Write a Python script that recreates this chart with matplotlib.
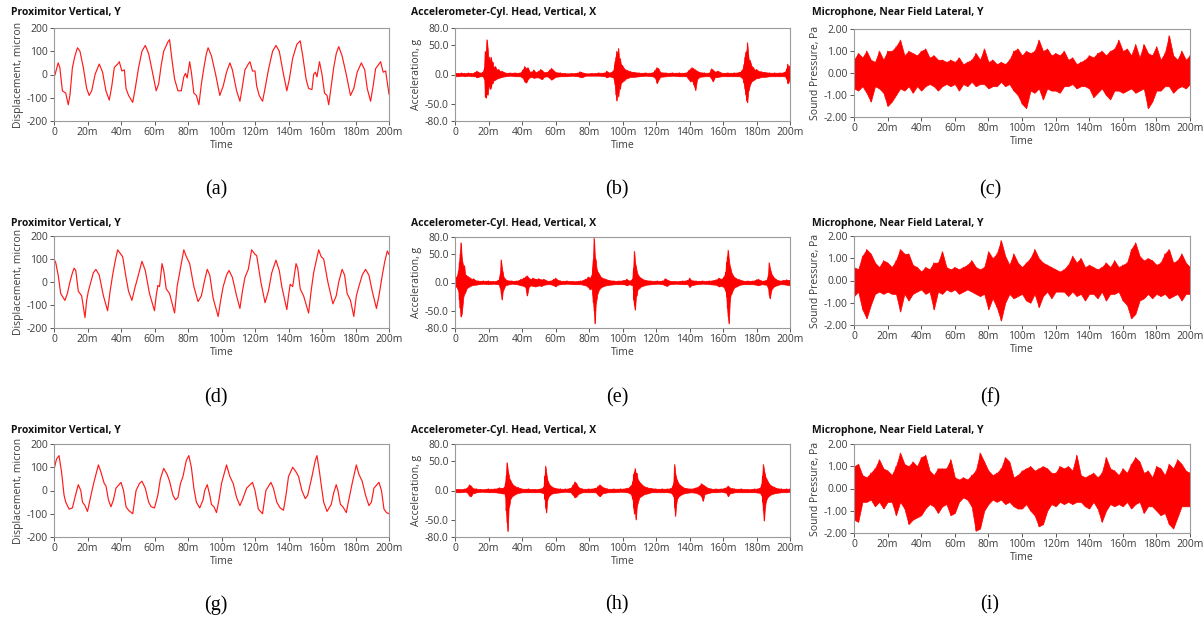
import numpy as np
import matplotlib
matplotlib.use("Agg")
import matplotlib.pyplot as plt

plt.rcParams['font.family'] = ['Open Sans', 'DejaVu Sans']
plt.rcParams['axes.unicode_minus'] = False

# ---------------- data ----------------
# time in ms

time_ticks = [0, 20, 40, 60, 80, 100, 120, 140, 160, 180, 200]
time_labels = ['0', '20m', '40m', '60m', '80m', '100m', '120m', '140m', '160m', '180m', '200m']

disp_ticks = [-200, -100, 0, 100, 200]
disp_labels = ['-200', '-100', '0', '100', '200']
acc_ticks = [-80, -50, 0, 50, 80]
acc_labels = ['-80.0', '-50.0', '0.0', '50.0', '80.0']
mic_ticks = [-2, -1, 0, 1, 2]
mic_labels = ['-2.00', '-1.00', '0.00', '1.00', '2.00']

panel_letters = ['(a)', '(b)', '(c)', '(d)', '(e)', '(f)', '(g)', '(h)', '(i)']

# proximitor displacement (t, micron)
disp_a = [(0, -15), (1, 10), (2.5, 50), (3.5, 30), (5, -70), (7, -80), (8.5, -130), (9.5, -90), (11, 30),
          (12.5, 80), (14, 115), (15.5, 100), (17.5, 30), (19.5, -60), (21, -90), (22.5, -70), (24.5, 0),
          (27, 45), (29, 10), (31, -70), (33, -110), (34.5, -50), (36, 30), (38, 45), (39, 55), (40.5, 15),
          (42, 20), (43, -60), (44.5, -90), (47, -120), (48.5, -60), (50.5, 30), (52.5, 100), (54.5, 125),
          (56.5, 90), (58.5, 20), (61, -70), (62.5, -40), (64, 40), (65.5, 100), (68, 140), (69, 150),
          (70.5, 60), (72, -20), (74, -70), (76, -70), (77.5, -10), (78.5, 5), (79.5, -15), (81, 55),
          (82, 10), (83.5, -80), (85, -90), (86.5, -130), (88, -40), (89.5, 30), (91, 90), (92, 115),
          (94, 80), (96.5, 0), (99, -90), (101, -50), (103, 10), (105, 50), (106.5, 20), (109, -70),
          (111, -115), (112.5, -50), (114, 20), (116, 45), (117, 55), (118.5, 15), (120, 15), (121, -50),
          (122.5, -90), (124.5, -115), (126, -60), (128, 20), (130.5, 100), (132.5, 125), (134.5, 100),
          (136.5, 20), (139, -70), (140.5, -20), (142.5, 70), (145, 130), (147, 145), (148.5, 80),
          (150.5, -20), (152, -60), (154, -65), (155, 0), (156, 10), (157, -10), (158.5, 55), (160, 0),
          (161.5, -80), (163, -90), (164, -130), (165.5, -50), (167, 30), (168.5, 90), (170, 120),
          (172, 80), (174.5, 0), (177, -90), (179, -60), (181, 10), (183.5, 50), (185.5, 20), (187, -60),
          (189, -115), (190.5, -50), (192, 25), (194, 45), (195, 55), (196.5, 10), (198, 15), (200, -85)]

disp_d = [(0, 100), (1, 85), (2.5, 30), (4, -50), (6.5, -80), (8, -50), (9.5, 0), (11, 40), (12, 60),
          (13, 50), (14.5, -40), (16.5, -60), (18.5, -155), (19.5, -80), (20.5, -40), (22, 0), (23.5, 40),
          (25, 55), (27, 30), (29.5, -60), (32, -125), (33.5, -40), (35, 30), (36.5, 90), (38, 140),
          (40, 120), (41, 110), (43, 20), (44.5, -40), (46.5, -80), (48.5, -20), (50, 20), (52.5, 90),
          (54.5, 50), (57, -50), (60, -125), (61, -60), (62, -15), (63, -20), (64.5, 80), (65.5, 50),
          (67, -30), (69, -50), (72, -135), (73.5, -20), (75, 40), (77.5, 140), (79, 110), (81, 80),
          (83.5, -20), (86, -85), (88, -60), (90, 10), (91.5, 55), (93, 30), (95, -70), (98, -150),
          (99.5, -80), (101, -20), (103, 30), (104.5, 50), (106.5, 20), (109, -60), (111, -115),
          (112.5, -40), (114, 20), (116, 55), (118, 140), (120, 120), (121, 115), (123.5, 0), (126, -90),
          (128, -40), (130, 40), (132.5, 95), (134.5, 50), (136, -20), (139, -120), (140, -60), (141, -10),
          (142.5, -20), (144.5, 80), (145.5, 60), (147, -30), (149, -60), (152, -135), (153.5, -40),
          (155, 40), (156.5, 90), (158, 140), (159.5, 110), (161, 100), (163.5, 0), (166.5, -95),
          (168.5, -60), (170, 0), (172, 55), (173.5, 30), (175, -50), (177, -80), (179, -150), (180.5, -60),
          (182, -20), (184, 30), (186, 55), (188, 30), (190, -40), (192.5, -115), (194, -60), (196, 30),
          (197.5, 90), (199, 135), (200, 120)]

disp_g = [(0, 90), (1.5, 135), (3, 150), (4.5, 80), (6, -20), (7, -50), (9, -80), (11, -75), (12.5, -30),
          (14.5, 25), (16, 0), (17, -50), (18.5, -65), (20, -90), (21.5, -40), (23, 10), (24, 40),
          (26.5, 110), (28, 80), (30, 30), (31, 20), (32.5, -40), (34, -70), (35.5, -40), (37, 10),
          (40, 35), (41.5, 0), (43, -70), (44.5, -85), (47, -100), (48, -50), (49, 0), (51, 30),
          (52.5, 40), (54.5, 10), (56.5, -50), (58, -70), (60, -75), (62, -20), (63.5, 50), (65.5, 95),
          (67.5, 70), (69, 40), (71, -20), (72.5, -40), (74, -30), (75.5, 30), (77, 60), (79, 130),
          (80.5, 150), (82, 100), (83.5, 10), (85, -50), (87, -75), (89, -40), (90, 0), (91.5, 25),
          (93, -20), (94, -60), (95.5, -70), (97, -95), (98.5, -40), (100, 30), (101.5, 70), (103, 110),
          (105, 60), (107, 30), (109, -30), (111, -65), (112.5, -40), (115, 10), (118.5, 35), (120, 0),
          (122, -80), (124.5, -100), (125.5, -50), (126.5, 0), (129.5, 35), (131, 10), (133, -50),
          (135, -75), (137, -85), (138.5, -20), (140, 60), (142.5, 100), (144.5, 80), (146, 60), (148, 0),
          (150, -35), (151.5, -20), (154, 60), (156, 130), (157, 150), (158.5, 80), (160, 0), (161, -50),
          (163, -90), (165.5, -60), (167, -10), (168.5, 25), (169.5, 0), (171, -60), (172.5, -70),
          (174.5, -95), (176, -40), (178, 30), (180.5, 110), (182, 70), (184, 40), (186, -20), (188, -65),
          (189.5, -50), (191, 10), (194, 35), (195.5, 0), (197, -80), (198.5, -95), (200, -100)]

# accelerometer envelope (t, upper g, lower g)
acc_b = [(0, 3, -3), (2, 2, -3), (4, 3, -2), (6, 2, -3), (8, 3, -2), (10, 2, -3), (12, 4, -3), (13, 6, -5),
         (14, 4, -4), (15, 3, -3), (16.5, 4, -3), (17.5, 10, -8), (18, 40, -38), (18.5, 38, -40),
         (19, 60, -30), (19.5, 45, -35), (20, 25, -22), (20.5, 30, -18), (21, 20, -25), (21.5, 30, -22),
         (22, 18, -14), (22.5, 22, -15), (23, 12, -10), (24, 14, -9), (25, 8, -7), (26, 9, -6), (27, 5, -5),
         (28, 6, -4), (30, 3, -3), (33, 3, -2), (36, 3, -3), (39, 3, -3), (40.5, 8, -6), (41.5, 14, -12),
         (42.5, 10, -14), (43.5, 12, -8), (44.5, 5, -5), (46, 5, -4), (47, 8, -6), (48, 4, -5), (50, 6, -5),
         (51, 9, -7), (52, 7, -8), (53, 4, -4), (55, 4, -3), (56.5, 8, -6), (57.5, 11, -9), (58.5, 8, -7),
         (60, 4, -4), (63, 3, -3), (66, 2, -3), (70, 2, -2), (73.5, 3, -3), (74.5, 5, -4), (75.5, 4, -5),
         (78, 2, -2), (82, 2, -2), (86, 3, -2), (89.5, 3, -3), (90.5, 6, -5), (92, 3, -3), (94.5, 6, -5),
         (95.5, 22, -18), (96, 30, -35), (96.5, 40, -45), (97, 35, -30), (97.5, 45, -38), (98, 25, -22),
         (98.5, 28, -25), (99, 18, -15), (100, 15, -12), (101, 10, -10), (102, 8, -7), (103, 7, -6),
         (105, 5, -4), (107, 4, -4), (110, 3, -3), (114, 3, -2), (118, 3, -3), (119.5, 8, -6),
         (120.5, 12, -15), (121.5, 10, -9), (122.5, 4, -4), (126, 3, -3), (130, 3, -2), (134, 3, -3),
         (138, 3, -3), (139.5, 7, -8), (140.5, 10, -12), (141.5, 12, -10), (142.5, 10, -18),
         (143.5, 8, -27), (144.5, 6, -8), (146, 4, -4), (149, 3, -3), (152, 3, -3), (153, 10, -7),
         (154, 8, -12), (155, 5, -5), (157, 6, -4), (159, 3, -3), (163, 3, -3), (167, 3, -3), (170, 4, -3),
         (171.5, 8, -6), (172.5, 18, -15), (173, 30, -25), (173.5, 38, -35), (174, 40, -45),
         (174.5, 55, -48), (175, 35, -30), (175.5, 22, -25), (176, 25, -18), (177, 15, -12), (178, 12, -10),
         (179, 8, -8), (180, 9, -6), (181, 6, -6), (183, 5, -4), (185, 4, -4), (188, 3, -3), (191, 3, -3),
         (194, 3, -3), (197, 4, -3), (198, 10, -8), (198.5, 18, -15), (199, 12, -14), (199.5, 15, -10),
         (200, 8, -8)]

acc_e = [(0, 8, -6), (1, 10, -8), (2, 20, -15), (2.5, 35, -30), (3, 50, -45), (3.5, 70, -60), (4, 45, -55),
         (4.5, 35, -40), (5, 28, -25), (5.5, 30, -20), (6, 15, -18), (7, 12, -10), (8, 10, -8), (9, 8, -6),
         (10, 6, -5), (11, 7, -4), (12, 4, -4), (14, 3, -3), (17, 3, -2), (20, 3, -3), (23, 2, -2),
         (26, 4, -3), (27, 15, -10), (27.5, 40, -20), (28, 25, -30), (28.5, 18, -15), (29, 10, -12),
         (30, 6, -5), (31, 4, -4), (34, 3, -2), (37, 3, -3), (39.5, 6, -5), (41, 8, -6), (42, 10, -8),
         (43, 12, -23), (44, 8, -8), (45, 6, -5), (46.5, 8, -6), (48, 6, -7), (50, 7, -5), (51.5, 5, -6),
         (53, 6, -4), (55, 3, -3), (57, 3, -3), (59, 6, -5), (60, 8, -7), (61, 5, -4), (63, 3, -3),
         (67, 3, -2), (71, 2, -3), (75, 3, -3), (78, 6, -5), (79.5, 10, -8), (80.5, 8, -12),
         (81.5, 12, -10), (82.5, 40, -35), (83, 78, -50), (83.5, 45, -72), (84, 40, -38), (84.5, 25, -30),
         (85, 20, -20), (86, 15, -12), (87, 10, -9), (88, 8, -7), (90, 6, -5), (92, 4, -4), (95, 3, -3),
         (98, 3, -3), (101, 4, -3), (102.5, 6, -5), (104, 3, -3), (106, 6, -5), (106.5, 25, -30),
         (107, 55, -40), (107.5, 35, -48), (108, 28, -25), (108.5, 20, -22), (109, 15, -12), (110, 10, -10),
         (111, 8, -7), (112, 6, -6), (114, 4, -4), (117, 3, -3), (121, 3, -2), (124, 3, -3), (125.5, 7, -5),
         (126.5, 5, -6), (128, 3, -3), (132, 2, -2), (136, 3, -3), (139, 4, -3), (140, 8, -8), (141, 4, -5),
         (144, 3, -3), (148, 3, -2), (152, 3, -3), (156, 5, -4), (157.5, 8, -7), (159, 6, -6),
         (160.5, 10, -8), (161.5, 18, -15), (162, 35, -25), (162.5, 45, -45), (163, 57, -60),
         (163.5, 40, -72), (164, 30, -35), (164.5, 25, -22), (165, 18, -20), (166, 12, -12), (167, 9, -8),
         (168, 7, -7), (170, 5, -4), (172, 3, -3), (175, 3, -3), (178, 3, -3), (180, 5, -4), (181, 6, -5),
         (183, 3, -3), (186, 4, -4), (187, 12, -10), (187.5, 35, -22), (188, 25, -28), (188.5, 20, -18),
         (189, 15, -12), (190, 10, -8), (191, 7, -6), (192, 5, -5), (194, 3, -3), (196, 4, -3),
         (198, 5, -4), (200, 4, -5)]

acc_h = [(0, 3, -3), (3, 2, -3), (6, 3, -2), (7.5, 5, -4), (8.5, 10, -9), (9.5, 8, -10), (10.5, 4, -5),
         (13, 3, -3), (16, 2, -2), (20, 3, -3), (24, 3, -3), (26.5, 5, -4), (28, 4, -5), (29.5, 6, -5),
         (30, 12, -10), (30.5, 25, -35), (31, 48, -55), (31.5, 35, -70), (32, 28, -30), (32.5, 20, -25),
         (33, 18, -15), (34, 12, -10), (35, 9, -8), (36, 7, -6), (38, 5, -4), (40, 3, -3), (44, 3, -3),
         (48, 2, -3), (51, 3, -3), (53, 6, -5), (53.5, 25, -15), (54, 42, -30), (54.5, 30, -38),
         (55, 20, -18), (55.5, 15, -12), (56.5, 10, -8), (58, 6, -5), (60, 4, -4), (63, 3, -3), (66, 3, -2),
         (69, 4, -3), (70.5, 10, -8), (71.5, 15, -12), (72.5, 12, -10), (73.5, 6, -6), (76, 3, -3),
         (80, 3, -3), (84, 4, -3), (85.5, 8, -8), (86.5, 10, -10), (88, 6, -5), (91, 3, -3), (95, 3, -3),
         (99, 3, -2), (103, 4, -3), (105, 8, -6), (106, 15, -15), (106.5, 28, -30), (107, 32, -40),
         (107.5, 38, -35), (108, 25, -50), (108.5, 30, -28), (109, 20, -22), (110, 15, -12), (111, 12, -10),
         (112, 9, -8), (113, 7, -6), (115, 5, -5), (117, 4, -3), (120, 3, -3), (124, 3, -3), (127, 3, -3),
         (129, 4, -4), (130.5, 12, -10), (131, 45, -30), (131.5, 30, -44), (132, 22, -25), (132.5, 18, -15),
         (133.5, 12, -10), (135, 8, -7), (136.5, 5, -5), (138, 4, -4), (141, 3, -3), (144, 5, -4),
         (146, 8, -7), (147, 12, -10), (148, 10, -18), (149, 8, -6), (150.5, 5, -5), (153, 3, -3),
         (156, 3, -3), (159, 3, -2), (162, 5, -4), (163, 8, -10), (164, 5, -5), (167, 3, -3), (171, 3, -3),
         (175, 2, -3), (179, 3, -3), (182, 4, -4), (183, 10, -8), (183.5, 25, -20), (184, 45, -35),
         (184.5, 35, -52), (185, 28, -30), (185.5, 22, -20), (186, 20, -15), (187, 14, -10), (188, 10, -8),
         (189, 8, -6), (190.5, 6, -5), (192, 4, -4), (195, 3, -3), (198, 3, -3), (200, 3, -2)]

# microphone envelope, one value every 2.5 ms (Pa)
mic_c_hi = [0.6, 0.9, 0.7, 1.0, 0.6, 0.5, 1.0, 0.6, 1.0, 1.0, 1.2, 1.5, 0.8, 1.0, 0.9, 0.8, 1.0, 1.1, 0.7, 0.8,
            0.6, 0.6, 0.5, 0.6, 0.5, 0.7, 0.4, 0.5, 0.6, 0.9, 0.6, 1.1, 0.5, 0.6, 0.4, 0.5, 0.4, 0.6, 1.0, 1.1,
            0.8, 1.0, 0.9, 1.0, 1.5, 1.0, 1.1, 0.8, 0.9, 0.8, 1.0, 0.6, 0.7, 0.4, 0.5, 0.6, 0.8, 0.7, 0.9, 1.0,
            0.8, 1.0, 1.1, 1.5, 1.0, 1.1, 0.8, 1.3, 0.7, 1.3, 0.9, 0.8, 1.2, 0.6, 0.9, 1.7, 0.8, 0.6, 1.0, 0.6,
            0.8]
mic_c_lo = [-0.7, -0.8, -0.6, -0.9, -1.3, -0.6, -0.7, -0.9, -1.5, -1.3, -1.0, -0.7, -0.8, -0.6, -0.9, -0.6,
            -0.8, -0.6, -0.5, -0.6, -0.8, -0.6, -0.5, -0.6, -0.5, -0.8, -0.5, -0.6, -0.4, -0.6, -0.5, -0.5,
            -0.7, -0.6, -0.6, -0.4, -0.6, -0.5, -0.8, -1.0, -1.4, -1.6, -0.8, -0.9, -0.7, -1.2, -0.7, -0.8,
            -0.8, -0.9, -0.6, -0.6, -0.5, -0.7, -0.6, -0.6, -0.7, -1.1, -0.9, -0.7, -1.0, -1.2, -0.8, -0.8,
            -0.9, -0.8, -0.7, -0.9, -0.8, -0.7, -1.6, -1.3, -0.8, -0.8, -0.6, -0.6, -0.9, -0.7, -0.6, -0.7,
            -0.5]

mic_f_hi = [0.6, 0.5, 1.1, 1.4, 1.2, 0.8, 0.6, 0.9, 0.8, 0.6, 0.9, 1.4, 1.2, 1.2, 0.7, 0.6, 0.4, 0.6, 0.5, 0.8,
            0.8, 1.3, 0.6, 0.5, 0.6, 0.5, 0.6, 0.7, 0.9, 0.6, 0.5, 0.6, 1.3, 1.0, 1.2, 1.8, 1.1, 0.7, 1.2, 0.8,
            0.6, 0.8, 1.0, 1.4, 1.0, 0.8, 0.7, 0.6, 0.5, 0.4, 0.5, 0.7, 1.1, 0.8, 1.0, 0.6, 0.7, 0.6, 0.5, 0.6,
            0.8, 0.6, 0.9, 0.6, 0.7, 0.8, 1.4, 1.7, 1.1, 0.9, 1.0, 0.9, 0.7, 0.8, 1.2, 1.4, 0.8, 0.9, 1.2, 0.8,
            0.6]
mic_f_lo = [-0.7, -0.5, -1.3, -1.7, -1.1, -0.6, -0.5, -0.6, -0.5, -0.6, -0.6, -1.4, -0.6, -0.9, -0.6, -0.5,
            -0.4, -0.6, -0.5, -1.3, -0.5, -0.6, -0.4, -0.5, -0.4, -0.6, -0.5, -0.4, -0.5, -0.6, -0.7, -0.6,
            -1.3, -0.8, -1.2, -1.8, -1.0, -0.6, -0.8, -0.7, -0.6, -0.9, -1.0, -0.6, -1.2, -0.7, -0.5, -0.8,
            -0.5, -0.5, -0.5, -0.7, -0.5, -0.7, -0.6, -0.9, -0.6, -0.6, -0.8, -0.5, -0.9, -0.6, -0.6, -0.5,
            -0.9, -1.1, -1.7, -1.5, -0.9, -0.8, -0.6, -0.8, -0.6, -0.7, -0.6, -0.8, -0.7, -0.6, -0.9, -0.6,
            -0.6]

mic_i_hi = [1.0, 1.1, 0.6, 0.5, 0.7, 0.9, 1.3, 0.9, 0.8, 0.6, 1.0, 1.6, 1.1, 1.0, 1.2, 1.0, 1.4, 1.5, 0.8, 0.6,
            0.9, 0.9, 0.9, 1.3, 0.5, 0.4, 0.5, 0.4, 0.6, 0.8, 1.6, 1.2, 0.8, 0.6, 0.7, 0.9, 1.4, 1.2, 0.5, 0.6,
            0.8, 0.9, 1.0, 0.8, 0.9, 1.0, 0.9, 0.7, 0.7, 1.0, 0.9, 1.0, 0.8, 1.5, 0.6, 0.5, 0.6, 0.7, 0.5, 0.7,
            1.4, 0.9, 0.8, 0.6, 0.9, 0.7, 1.1, 1.4, 1.2, 0.7, 0.8, 0.5, 1.0, 0.9, 0.6, 1.1, 0.9, 1.3, 1.1, 0.8,
            0.7]
mic_i_lo = [-1.4, -1.5, -0.6, -0.6, -0.5, -0.8, -0.6, -0.9, -0.6, -0.6, -1.2, -0.6, -0.9, -1.6, -1.4, -1.3,
            -1.2, -0.9, -0.7, -0.8, -1.1, -0.8, -0.7, -1.2, -1.1, -0.6, -0.4, -0.5, -0.8, -1.9, -1.8, -1.0,
            -0.7, -0.5, -0.6, -0.5, -0.7, -0.6, -0.8, -0.9, -0.9, -0.7, -1.0, -1.2, -1.7, -1.6, -1.0, -0.7,
            -0.8, -0.6, -0.7, -0.6, -0.7, -0.6, -0.6, -0.8, -0.9, -0.6, -0.9, -1.5, -1.0, -0.7, -0.8, -0.7,
            -0.8, -0.6, -0.9, -0.7, -0.6, -1.1, -0.8, -0.8, -1.0, -1.2, -1.1, -1.6, -1.8, -1.3, -0.8, -0.8,
            -0.8]

# ---------------- figure ----------------
W, H = 1204, 624
fig = plt.figure(figsize=(W / 100, H / 100), dpi=100)
fig.patch.set_facecolor('white')

RED = '#ff0000'
TXT = '#3c3c3c'


def px_axes(l, t, r, b):
    return fig.add_axes([l / W, 1 - b / H, (r - l) / W, (b - t) / H])


def style(ax, ticks, labels, ylim, ylabel):
    ax.set_xlim(0, 200)
    ax.set_ylim(*ylim)
    ax.set_xticks(time_ticks)
    ax.set_xticklabels(time_labels)
    ax.set_yticks(ticks)
    ax.set_yticklabels(labels)
    ax.tick_params(labelsize=7.5, colors=TXT, length=3, width=0.6, pad=1.5)
    for s in ax.spines.values():
        s.set_color('#9a9a9a')
        s.set_linewidth(0.8)
    ax.set_xlabel('Time', fontsize=7.5, color=TXT, labelpad=1)
    ax.set_ylabel(ylabel, fontsize=7.5, color=TXT, labelpad=2)


def draw_disp(ax, pts):
    t = [p[0] for p in pts]
    v = [p[1] for p in pts]
    ax.plot(t, v, color='#ff1a1a', lw=0.85, solid_joinstyle='round')
    style(ax, disp_ticks, disp_labels, (-200, 200), 'Displacement, micron')


def draw_band(ax, t, up, lo):
    # envelope fill plus vertical strokes so the burst edges stay spiky
    ax.fill_between(t, lo, up, color=RED, lw=0.5)
    zig_t, zig_v = [], []
    for ti, u, l in zip(t, up, lo):
        zig_t += [ti, ti]
        zig_v += [u, l]
    ax.plot(zig_t, zig_v, color=RED, lw=0.5)


def draw_acc(ax, pts):
    t = [p[0] for p in pts]
    up = [p[1] for p in pts]
    lo = [p[2] for p in pts]
    draw_band(ax, t, up, lo)
    style(ax, acc_ticks, acc_labels, (-80, 80), 'Acceleration, g')


def draw_mic(ax, hi, lo):
    t = np.linspace(0, 200, len(hi))
    draw_band(ax, t, hi, lo)
    style(ax, mic_ticks, mic_labels, (-2, 2), 'Sound Pressure, Pa')


titles = ['Proximitor Vertical, Y', 'Accelerometer-Cyl. Head, Vertical, X', 'Microphone, Near Field Lateral, Y']
title_x = [11, 411, 812]

rows = [
    dict(title_y=12, boxes=[(54, 28, 389, 121), (455, 28, 790, 121), (854, 29, 1190, 117)], label_y=190),
    dict(title_y=223, boxes=[(54, 236, 389, 328), (455, 237, 790, 328), (854, 236, 1190, 325)], label_y=398),
    dict(title_y=430, boxes=[(54, 444, 389, 537), (455, 444, 790, 537), (854, 444, 1190, 533)], label_y=605),
]
disp_data = [disp_a, disp_d, disp_g]
acc_data = [acc_b, acc_e, acc_h]
mic_data = [(mic_c_hi, mic_c_lo), (mic_f_hi, mic_f_lo), (mic_i_hi, mic_i_lo)]
label_x = [216, 617, 990]

for r, row in enumerate(rows):
    axes = [px_axes(*b) for b in row['boxes']]
    draw_disp(axes[0], disp_data[r])
    draw_acc(axes[1], acc_data[r])
    draw_mic(axes[2], *mic_data[r])
    for c in range(3):
        fig.text(title_x[c] / W, 1 - row['title_y'] / H, titles[c], fontsize=7.5, fontweight='bold',
                 color='#111111', ha='left', va='center')
        fig.text(label_x[c] / W, 1 - row['label_y'] / H, panel_letters[r * 3 + c], fontsize=14.5,
                 family='Liberation Serif', ha='center', va='center')

fig.savefig('out.png', dpi=100, facecolor='white')
